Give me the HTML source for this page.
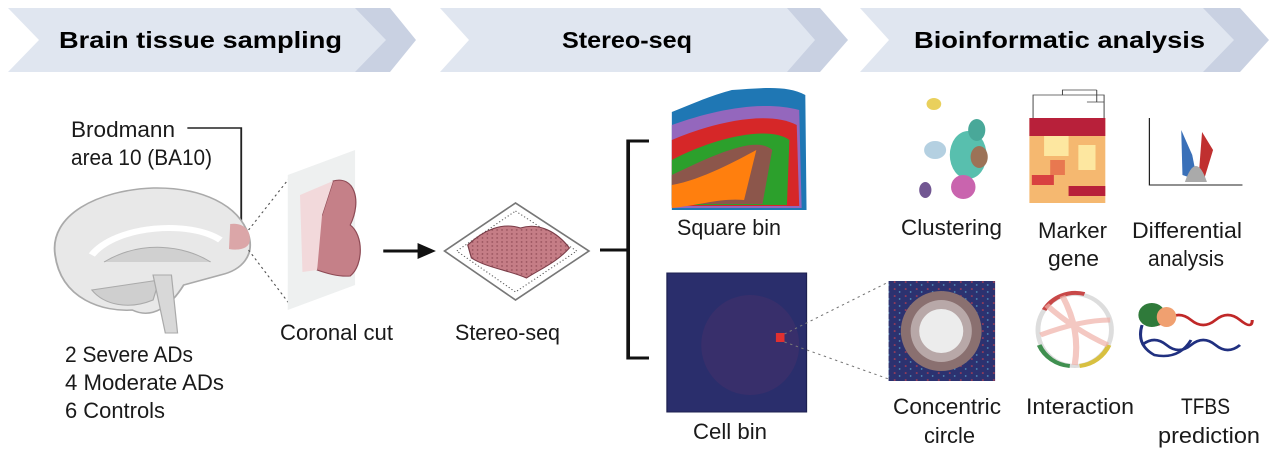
<!DOCTYPE html>
<html><head><meta charset="utf-8"><style>
body{margin:0;background:#fff}
svg{display:block}
text{font-family:"Liberation Sans",sans-serif;fill:#1a1a1a}
.h{font-weight:bold;font-size:23px;fill:#000}
.t{font-size:22px}
</style></head><body>
<svg width="1280" height="466" viewBox="0 0 1280 466">
<defs>
<pattern id="dots" width="4" height="4" patternUnits="userSpaceOnUse"><rect width="4" height="4" fill="#c57d86"/><circle cx="2" cy="2" r="0.7" fill="#8e4a55"/></pattern>
<pattern id="sp" width="9" height="7" patternUnits="userSpaceOnUse"><rect width="9" height="7" fill="#2c3270"/><circle cx="2" cy="2" r="0.8" fill="#c04050"/><circle cx="6" cy="5" r="0.7" fill="#58a0c8"/></pattern>
</defs>
<!-- banners -->
<polygon points="350,8 390,8 416,40 390,72 350,72" fill="#c9d1e2"/>
<polygon points="8,8 355,8 386,40 355,72 8,72 39,40" fill="#e0e6f0"/>
<polygon points="782,8 820,8 848,40 820,72 782,72" fill="#c9d1e2"/>
<polygon points="440,8 787,8 815,40 787,72 440,72 469,40" fill="#e0e6f0"/>
<polygon points="1198,8 1240,8 1269,40 1240,72 1198,72" fill="#c9d1e2"/>
<polygon points="860,8 1203,8 1234,40 1203,72 860,72 889,40" fill="#e0e6f0"/>
<text class="h" x="59" y="48" textLength="283" lengthAdjust="spacingAndGlyphs">Brain tissue sampling</text>
<text class="h" x="562" y="48" textLength="130" lengthAdjust="spacingAndGlyphs">Stereo-seq</text>
<text class="h" x="914" y="48" textLength="291" lengthAdjust="spacingAndGlyphs">Bioinformatic analysis</text>

<!-- left shapes -->
<g transform="scale(1.2245,1)">
<polyline points="153,128 197,128 197,222" fill="none" stroke="#222" stroke-width="1.5"/>
<path d="M45,255 C40,215 80,190 125,188 C165,187 195,205 203,235 C208,255 198,270 180,275 L150,285 C140,305 125,320 108,310 C85,312 50,300 45,255Z" fill="#e8e8e8" stroke="#aaa" stroke-width="1.5"/>
<path d="M75,255 C95,225 155,220 180,240" fill="none" stroke="#fff" stroke-width="6"/>
<path d="M85,262 C115,240 150,245 172,262" fill="#d0d0d0" stroke="#aaa"/>
<path d="M75,290 C85,305 105,310 125,300 L130,280 Z" fill="#cfcfcf" stroke="#aaa"/>
<path d="M125,275 L135,333 L145,333 L140,275Z" fill="#d8d8d8" stroke="#aaa"/>
<path d="M188,224 C198,222 205,230 204,240 C204,248 196,251 187,249Z" fill="#dba6a8"/>
<line x1="203" y1="230" x2="237" y2="177" stroke="#555" stroke-dasharray="2,3"/>
<line x1="203" y1="250" x2="237" y2="305" stroke="#555" stroke-dasharray="2,3"/>
<polygon points="235,175 290,150 290,285 235,310" fill="#eef0f0"/>
<path d="M272,181 C289,175 296,200 286,225 C297,235 297,265 286,276 C276,277 266,273 259,270 C256,250 251,230 263,215 Z" fill="#c58088" stroke="#8e4a55"/>
<path d="M245,195 L272,181 L263,215 L259,270 L247,272Z" fill="#f2d9db"/>
<line x1="313" y1="251" x2="343" y2="251" stroke="#111" stroke-width="3"/>
<polygon points="341,243 356,251 341,259" fill="#111"/>
<polygon points="421,203 481,251 421,300 363,251" fill="#fff" stroke="#777" stroke-width="1.5"/>
<polygon points="421,211 471,251 421,292 373,251" fill="#fff" stroke="#555" stroke-dasharray="1,2"/>
<path d="M382,245 C395,230 410,222 425,228 C440,222 455,232 465,248 C455,262 440,270 430,278 C415,270 398,268 385,258Z" fill="url(#dots)" stroke="#7a3d48"/>
<polyline points="490,250 512,250" stroke="#111" stroke-width="3"/>
<polyline points="530,141 513,141 513,358 530,358" fill="none" stroke="#111" stroke-width="3"/>
</g>
<text class="t" x="71" y="137" textLength="104" lengthAdjust="spacingAndGlyphs">Brodmann</text>
<text class="t" x="71" y="165" textLength="141" lengthAdjust="spacingAndGlyphs">area 10 (BA10)</text>
<text class="t" x="280" y="340" textLength="113" lengthAdjust="spacingAndGlyphs">Coronal cut</text>
<text class="t" x="455" y="340" textLength="105" lengthAdjust="spacingAndGlyphs">Stereo-seq</text>
<text class="t" x="65" y="362" textLength="128" lengthAdjust="spacingAndGlyphs">2 Severe ADs</text>
<text class="t" x="65" y="390" textLength="159" lengthAdjust="spacingAndGlyphs">4 Moderate ADs</text>
<text class="t" x="65" y="418" textLength="100" lengthAdjust="spacingAndGlyphs">6 Controls</text>

<!-- right shapes -->
<g transform="translate(640,0) scale(1.2245,1) translate(-640,0)">
<path d="M666,112 C690,100 700,95 715,90 C740,88 760,85 775,95 L776,210 L666,210Z" fill="#1f77b4"/>
<path d="M666,125 C700,110 740,100 770,110 L772,208 L666,208Z" fill="#9467bd"/>
<path d="M666,140 C700,122 745,110 768,125 L770,206 L666,206Z" fill="#d62728"/>
<path d="M666,160 C700,138 745,125 762,140 L760,205 L666,205Z" fill="#2ca02c"/>
<path d="M666,175 C700,155 735,135 748,150 L740,204 L666,204Z" fill="#8c564b"/>
<path d="M666,185 C690,180 720,160 735,150 L725,200 C705,198 690,205 666,208Z" fill="#ff7f0e"/>
<rect x="662" y="273" width="114" height="139" fill="#2a2e6c" stroke="#1d2050"/>
<ellipse cx="730" cy="345" rx="40" ry="50" fill="#43306a" opacity="0.6"/>
<rect x="751" y="333" width="7" height="9" fill="#e03030"/>
<line x1="758" y1="334" x2="843" y2="282" stroke="#777" stroke-dasharray="2,3"/>
<line x1="758" y1="342" x2="843" y2="379" stroke="#777" stroke-dasharray="2,3"/>
<rect x="843" y="281" width="87" height="100" fill="url(#sp)"/>
<ellipse cx="886" cy="331" rx="33" ry="40" fill="#8a7070"/>
<ellipse cx="886" cy="331" rx="25" ry="31" fill="#b8a8a8"/>
<ellipse cx="886" cy="331" rx="18" ry="22" fill="#ececec"/>
<g opacity="0.85">
<circle cx="881" cy="150" r="9" fill="#a8c8dc"/>
<circle cx="880" cy="104" r="6" fill="#e6c840"/>
<ellipse cx="908" cy="155" rx="15" ry="24" fill="#3cb4a0"/>
<ellipse cx="915" cy="130" rx="7" ry="11" fill="#2a9a88"/>
<ellipse cx="917" cy="157" rx="7" ry="11" fill="#8b5a3a"/>
<ellipse cx="904" cy="187" rx="10" ry="12" fill="#c04aa0"/>
<ellipse cx="873" cy="190" rx="5" ry="8" fill="#5a3a80"/>
</g>
<g stroke="#444" fill="none" stroke-width="0.8"><path d="M961,118 V95 H1019 V118 M985,95 V90 H1013 M1013,90 V102 H1019 M1005,102 H1019"/></g>
<rect x="958" y="118" width="62" height="85" fill="#f5b870"/>
<rect x="958" y="118" width="62" height="18" fill="#b8203a"/>
<rect x="970" y="136" width="20" height="20" fill="#fde7a0"/>
<rect x="998" y="145" width="14" height="25" fill="#fde7a0"/>
<rect x="960" y="175" width="18" height="10" fill="#d84040"/>
<rect x="990" y="186" width="30" height="10" fill="#b8203a"/>
<rect x="975" y="160" width="12" height="15" fill="#e87850"/>
<path d="M1056,118 V185 H1132" fill="none" stroke="#222"/>
<path d="M1083,175 L1082,130 L1091,155 L1095,180Z" fill="#3a70b8"/>
<path d="M1096,180 L1099,132 L1108,150 L1101,178Z" fill="#c03030"/>
<path d="M1085,182 Q1094,150 1103,182Z" fill="#aaa"/>
<ellipse cx="995" cy="330" rx="30" ry="36" fill="none" stroke="#ddd" stroke-width="4"/>
<path d="M970,310 A30,36 0 0 1 1003,294" fill="none" stroke="#c84848" stroke-width="4"/>
<path d="M966,345 A30,36 0 0 0 991,366" fill="none" stroke="#409050" stroke-width="4"/>
<path d="M999,366 A30,36 0 0 0 1023,345" fill="none" stroke="#d8c040" stroke-width="4"/>
<path d="M972,305 Q995,330 1022,345 M985,296 Q1000,330 995,365 M967,335 Q1000,320 1024,320" fill="none" stroke="#f0b0a8" stroke-width="5" opacity="0.7"/>
<path d="M1050,320 Q1060,330 1070,320 T1090,320 T1110,320 T1130,320 T1140,320" fill="none" stroke="#c02828" stroke-width="2.5"/>
<path d="M1050,345 Q1060,335 1070,345 T1090,345 T1110,345 T1130,345" fill="none" stroke="#203080" stroke-width="2.5"/>
<path d="M1050,325 Q1045,345 1060,355 Q1080,360 1090,340" fill="none" stroke="#203080" stroke-width="2.5"/>
<ellipse cx="1058" cy="315" rx="11" ry="12" fill="#2f7a3a"/>
<ellipse cx="1070" cy="317" rx="8" ry="10" fill="#f0a070"/>
</g>
<text class="t" x="677" y="235" textLength="104" lengthAdjust="spacingAndGlyphs">Square bin</text>
<text class="t" x="693" y="439" textLength="74" lengthAdjust="spacingAndGlyphs">Cell bin</text>
<text class="t" x="901" y="235" textLength="101" lengthAdjust="spacingAndGlyphs">Clustering</text>
<text class="t" x="1038" y="238" textLength="69" lengthAdjust="spacingAndGlyphs">Marker</text>
<text class="t" x="1048" y="266" textLength="51" lengthAdjust="spacingAndGlyphs">gene</text>
<text class="t" x="1132" y="238" textLength="110" lengthAdjust="spacingAndGlyphs">Differential</text>
<text class="t" x="1148" y="266" textLength="76" lengthAdjust="spacingAndGlyphs">analysis</text>
<text class="t" x="893" y="414" textLength="108" lengthAdjust="spacingAndGlyphs">Concentric</text>
<text class="t" x="924" y="443" textLength="51" lengthAdjust="spacingAndGlyphs">circle</text>
<text class="t" x="1026" y="414" textLength="108" lengthAdjust="spacingAndGlyphs">Interaction</text>
<text class="t" x="1181" y="414" textLength="49" lengthAdjust="spacingAndGlyphs">TFBS</text>
<text class="t" x="1158" y="443" textLength="102" lengthAdjust="spacingAndGlyphs">prediction</text>
</svg>
</body></html>
